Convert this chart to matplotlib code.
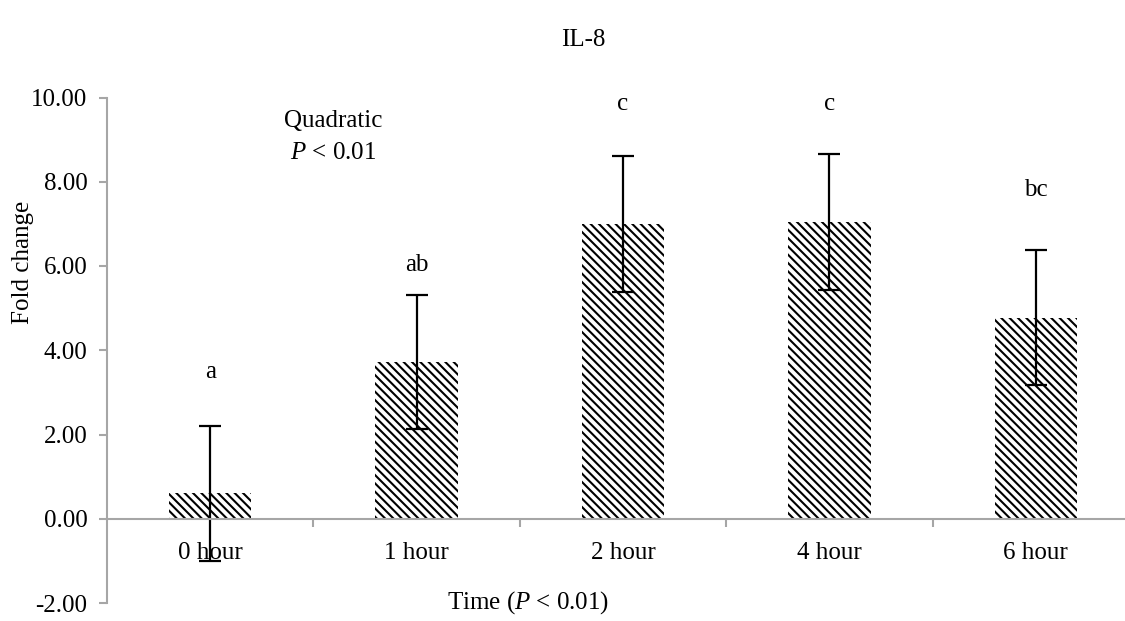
import matplotlib
matplotlib.use('Agg')
import matplotlib.pyplot as plt
import numpy as np

plt.rcParams['font.family'] = ['Liberation Serif', 'DejaVu Serif']
plt.rcParams['mathtext.fontset'] = 'custom'
plt.rcParams['mathtext.rm'] = 'Liberation Serif'
plt.rcParams['mathtext.it'] = 'Liberation Serif:italic'
plt.rcParams['hatch.linewidth'] = 1.5
plt.rcParams['hatch.color'] = 'black'

times = ['0 hour', '1 hour', '2 hour', '4 hour', '6 hour']
fold = [0.60, 3.72, 7.00, 7.05, 4.77]
err = [1.60, 1.60, 1.62, 1.62, 1.60]
letters = ['a', 'ab', 'c', 'c', 'bc']
letter_y = [3.49, 6.03, 9.85, 9.85, 7.80]

FS = 18

fig = plt.figure(figsize=(11.25, 6.21), dpi=100)
ax = fig.add_axes([107/1125, 18/621, 1032/1125, 505.5/621])

x = np.arange(len(times))
ax.bar(x, fold, width=0.4, color='white', edgecolor='black', linewidth=0,
       hatch='\\\\\\\\')
ax.errorbar(x, fold, yerr=err, fmt='none', ecolor='black', elinewidth=1.6,
            capsize=8, capthick=1.6)

for xi, lab, ly in zip(x, letters, letter_y):
    ax.text(xi, ly, lab, ha='center', va='center', fontsize=FS)

ax.text(0.596, 9.45, 'Quadratic', ha='center', va='center', fontsize=FS)
ax.text(0.596, 8.69, r'$\it{P}$ < 0.01', ha='center', va='center', fontsize=FS)

ax.set_xlim(-0.5, 4.5)
ax.set_ylim(-2, 10)
yt = np.arange(-2, 10.01, 2)
ax.set_yticks(yt)
ax.set_yticklabels(['%.2f' % v for v in yt])
ax.set_xticks(x)
ax.set_xticklabels(times)
ax.set_xticks(np.arange(0.5, 4, 1), minor=True)
ax.tick_params(axis='x', which='major', length=0, pad=17, labelsize=FS)
ax.tick_params(axis='x', which='minor', length=6, direction='out', color='#A6A6A6', width=1.5)
ax.tick_params(axis='y', length=6, direction='out', color='#A6A6A6', width=1.5, pad=8, labelsize=FS)

for s in ['top', 'right']:
    ax.spines[s].set_visible(False)
ax.spines['bottom'].set_position(('data', 0))
for s in ['bottom', 'left']:
    ax.spines[s].set_color('#A6A6A6')
    ax.spines[s].set_linewidth(1.5)

fig.text(583/1125, 1 - 40/621, 'IL-8', ha='center', va='center', fontsize=FS)
fig.text(23/1125, 1 - 262/621, 'Fold change', rotation=90, ha='center', va='center', fontsize=FS)
fig.text(528/1125, 1 - 603/621, r'Time ($\it{P}$ < 0.01)', ha='center', va='center', fontsize=FS)

fig.savefig('out.png', dpi=100)
